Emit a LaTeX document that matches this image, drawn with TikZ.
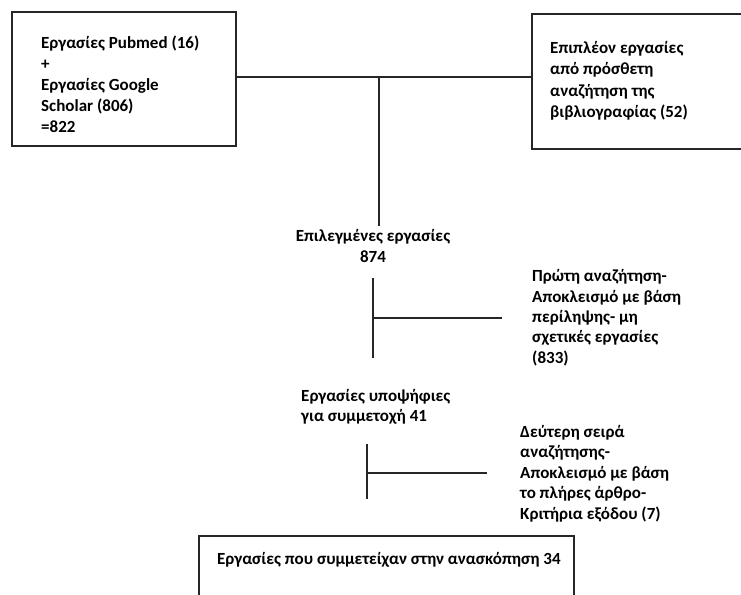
\documentclass[tikz,border=0pt]{standalone}
\usepackage{fontspec}
\setmainfont{Carlito}
\usepackage{tikz}
\usetikzlibrary{calc}
\tikzstyle{frame}=[draw=black!85, line width=1.6pt, inner sep=0pt]
\tikzstyle{txt}=[inner sep=0pt, anchor=base west, align=left, font=\fontsize{17}{21}\selectfont\bfseries]
\tikzstyle{link}=[draw=black!85, line width=1.4pt]

\begin{document}
\begin{tikzpicture}[x=1pt,y=1pt]
 \useasboundingbox (0,0) rectangle (741,-594);
 \clip (0,0) rectangle (741,-594);
%
 \node[frame, minimum width=224pt, minimum height=134pt] (pubbox) at (124,-79) {};
 \node[frame, minimum width=228pt, minimum height=135pt] (addbox) at (646,-81.5) {};
 \node[frame, minimum width=375pt, minimum height=84pt] (finbox) at (386.5,-578) {};
% (base = baseline of the last line)
 \node[txt] (pubtxt) at (41,-132) {Εργασίες Pubmed (16)\\ +\\ Εργασίες Google\\ Scholar (806)\\ =822};
 \node[txt, font=\fontsize{17}{21.5}\selectfont\bfseries] (addtxt) at (550,-117.5) {Επιπλέον εργασίες\\ από πρόσθετη\\ αναζήτηση της\\ βιβλιογραφίας (52)};
 \node[txt, anchor=base, align=center] (seltxt) at (373,-262) {Επιλεγμένες εργασίες\\ 874};
 \node[txt, font=\fontsize{17}{20.3}\selectfont\bfseries] (exctxt) at (532,-363) {Πρώτη αναζήτηση-\\ Αποκλεισμό με βάση\\ περίληψης- μη\\ σχετικές εργασίες\\ (833)};
 \node[txt, font=\fontsize{17}{20}\selectfont\bfseries] (candtxt) at (301,-421) {Εργασίες υποψήφιες\\ για συμμετοχή 41};
 \node[txt, font=\fontsize{17}{20.5}\selectfont\bfseries] (fulltxt) at (520,-519) {Δεύτερη σειρά\\ αναζήτησης-\\ Αποκλεισμό με βάση\\ το πλήρες άρθρο-\\ Κριτήρια εξόδου (7)};
 \node[txt] (fintxt) at (217,-564) {Εργασίες που συμμετείχαν στην ανασκόπηση 34};
%
 \coordinate (merge) at (379,-77);
 \coordinate (mergeend) at (379,-226);
 \draw[link] (merge -| pubbox.east) -- (merge -| addbox.west);
 \draw[link] (merge) -- (mergeend);
%
 \coordinate (cuttop) at (373,-278);
 \coordinate (cutbot) at (373,-358);
 \coordinate (cutmid) at (373,-318);
 \draw[link] (cuttop) -- (cutbot);
 \draw[link] (cutmid) -- ($(cutmid -| exctxt.west)+(-30,0)$);
%
 \coordinate (fulltop) at (367,-444);
 \coordinate (fullbot) at (367,-499);
 \coordinate (fullmid) at (367,-473);
 \draw[link] (fulltop) -- (fullbot);
 \draw[link] (fullmid) -- ($(fullmid -| fulltxt.west)+(-33,0)$);
\end{tikzpicture}
\end{document}
